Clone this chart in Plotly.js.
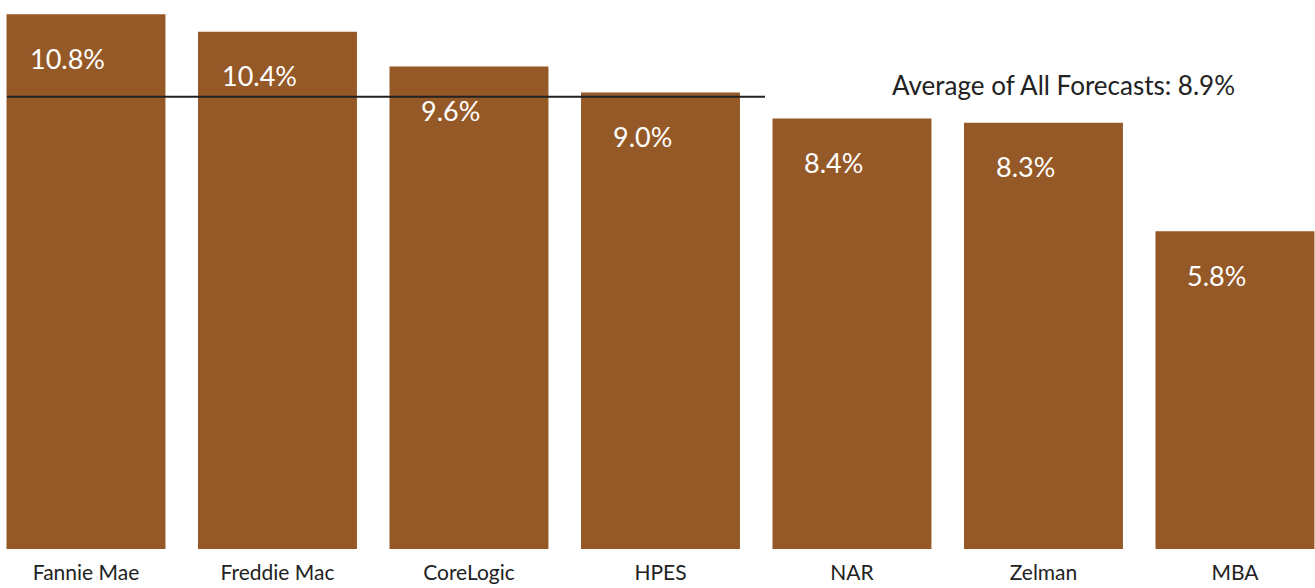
<!DOCTYPE html>
<html>
<head>
<meta charset="utf-8">
<script src="https://cdn.plot.ly/plotly-3.0.1.min.js"></script>
<style>html,body{margin:0;padding:0;background:#fff;}#chart{width:1315px;height:588px;}</style>
</head>
<body>
<div id="chart"></div>
<script>
const categories = ["Fannie Mae", "Freddie Mac", "CoreLogic", "HPES", "NAR", "Zelman", "MBA"];
const forecasts = [10.8, 10.4, 9.6, 9.0, 8.4, 8.3, 5.8];
const valueLabels = ["10.8%", "10.4%", "9.6%", "9.0%", "8.4%", "8.3%", "5.8%"];

const average = forecasts.reduce((a, b) => a + b, 0) / forecasts.length;
const yMin = -1.52, yMax = 11.13;
const barColor = "#955927";
const fontFam = "Lato, 'Open Sans', sans-serif";

const trace = {
  type: "bar",
  x: categories,
  y: forecasts.map(v => v - yMin),
  base: yMin,
  width: 0.83,
  marker: {color: barColor},
  hoverinfo: "skip"
};

const annotations = categories.map((c, i) => ({
  x: c, y: forecasts[i], xref: "x", yref: "y",
  text: valueLabels[i], showarrow: false,
  xanchor: "center", yanchor: "middle",
  xshift: -18, yshift: -44,
  font: {family: fontFam, size: 27, color: "#ffffff"}
}));
annotations.push({
  x: 1237 / 1315, xref: "paper", y: average, yref: "y",
  text: "Average of All Forecasts: " + average.toFixed(1) + "%",
  showarrow: false, xanchor: "right", yanchor: "middle", yshift: 12,
  font: {family: fontFam, size: 26, color: "#222222"}
});

const layout = {
  width: 1315, height: 588,
  margin: {l: 0, r: 0, t: 0, b: 39, pad: 0},
  paper_bgcolor: "#ffffff", plot_bgcolor: "#ffffff",
  showlegend: false,
  xaxis: {
    type: "category", range: [-0.449, 6.418],
    showgrid: false, zeroline: false, showline: false, ticks: "",
    ticklabelstandoff: 9,
    tickfont: {family: fontFam, size: 21, color: "#222222"}
  },
  yaxis: {
    range: [yMin, yMax], showgrid: false, zeroline: false,
    showline: false, showticklabels: false, ticks: ""
  },
  shapes: [{
    type: "line", xref: "paper", yref: "y",
    x0: 7 / 1315, x1: 765 / 1315, y0: average, y1: average,
    line: {color: "#222222", width: 2}, layer: "above"
  }],
  annotations: annotations
};

Plotly.newPlot("chart", [trace], layout, {staticPlot: true, displayModeBar: false});
</script>
</body>
</html>
